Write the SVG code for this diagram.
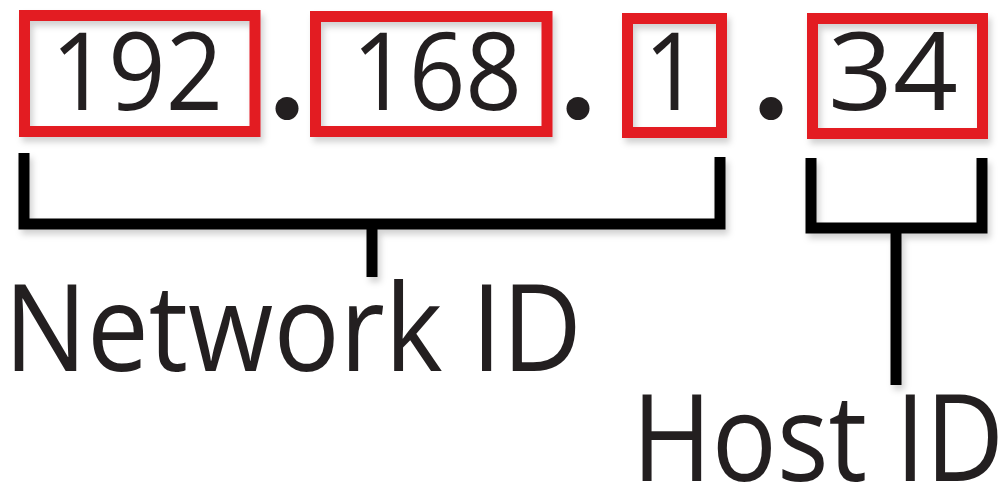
<svg xmlns="http://www.w3.org/2000/svg" width="1003" height="486" viewBox="0 0 1003 486">
<defs>
<filter id="sh" filterUnits="userSpaceOnUse" x="0" y="0" width="1003" height="486">
<feDropShadow dx="3" dy="5" stdDeviation="3" flood-color="#000" flood-opacity="0.18"/>
</filter>
<style>
.box{fill:none;stroke:#e31b23;stroke-width:11;filter:url(#sh)}
.num{font-family:"Open Sans","Noto Sans",sans-serif;font-size:108px;fill:#231f20;text-anchor:middle}
.lbl{font-family:"Open Sans","Noto Sans",sans-serif;font-size:120px;fill:#231f20}
.dot{fill:#231f20}
.br{fill:none;stroke:#000;stroke-width:11;stroke-linejoin:miter;stroke-linecap:butt}
</style>
</defs>
<rect width="1003" height="486" fill="#fff"/>
<g id="octet1">
<rect class="box" x="24.5" y="15.5" width="230.5" height="116"/>
<text class="num" x="137" y="110" textLength="172" lengthAdjust="spacingAndGlyphs">192</text>
</g>
<g id="dot1"><circle class="dot" cx="287" cy="108.5" r="11.5"/></g>
<g id="octet2">
<rect class="box" x="315.5" y="16.5" width="231.5" height="115"/>
<text class="num" x="437" y="110" textLength="170" lengthAdjust="spacingAndGlyphs">168</text>
</g>
<g id="dot2"><circle class="dot" cx="578" cy="108.5" r="11.5"/></g>
<g id="octet3">
<rect class="box" x="627.5" y="18.5" width="94" height="114"/>
<text class="num" x="672" y="110" textLength="56" lengthAdjust="spacingAndGlyphs">1</text>
</g>
<g id="dot3"><circle class="dot" cx="771" cy="108.5" r="11.5"/></g>
<g id="octet4">
<rect class="box" x="812.5" y="18.5" width="170" height="115"/>
<text class="num" x="893" y="110" textLength="130" lengthAdjust="spacingAndGlyphs">34</text>
</g>
<g id="connectors" filter="url(#sh)">
<path class="br" d="M24,153 V224 H720 V157"/>
<path class="br" d="M372,224 V277"/>
<path class="br" d="M811,158 V228 H982 V158"/>
<path class="br" d="M896,228 V385"/>
</g>
<g id="network-id">
<text class="lbl" x="4" y="371" textLength="578" lengthAdjust="spacingAndGlyphs">Network ID</text>
</g>
<g id="host-id">
<text class="lbl" x="632" y="481" textLength="372" lengthAdjust="spacingAndGlyphs">Host ID</text>
</g>
</svg>
